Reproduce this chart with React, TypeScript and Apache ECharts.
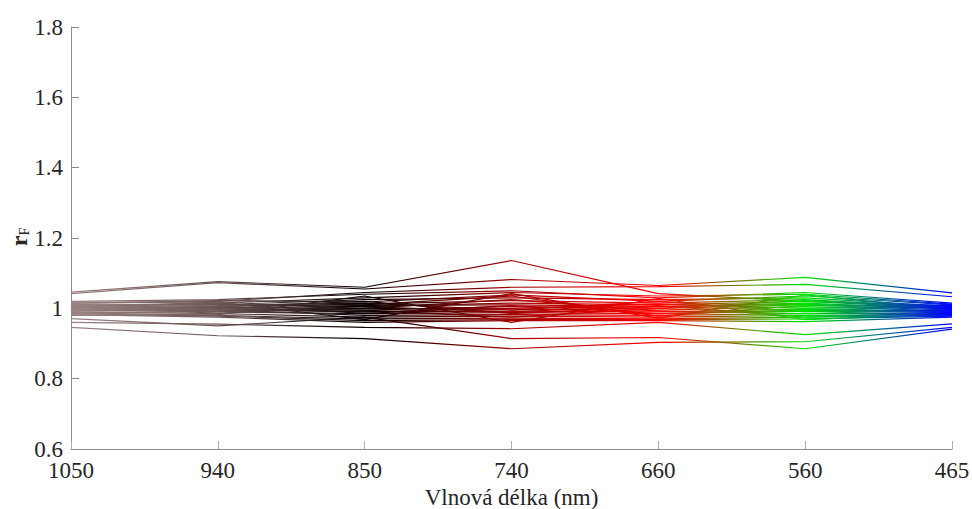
import React, { useEffect, useRef } from "react";
import * as echarts from "echarts";

const wavelengths = ["1050", "940", "850", "740", "660", "560", "465"];
const yTicks = { min: 0.6, max: 1.8, step: 0.2 };

const r01 = [1.046, 1.076, 1.060, 1.136, 1.042, 1.020, 1.008];
const r02 = [1.042, 1.073, 1.055, 1.082, 1.065, 1.088, 1.044];
const r03 = [1.015, 1.020, 1.045, 1.060, 1.062, 1.068, 1.033];
const r04 = [0.946, 0.922, 0.914, 0.885, 0.903, 0.905, 0.946];
const r05 = [0.971, 0.950, 0.975, 0.914, 0.917, 0.885, 0.941];
const r06 = [0.960, 0.955, 0.946, 0.942, 0.960, 0.925, 0.956];
const r07 = [1.020, 1.025, 1.040, 1.050, 1.030, 1.045, 1.015];
const r08 = [1.018, 1.015, 1.030, 1.045, 1.035, 1.040, 1.012];
const r09 = [1.015, 1.022, 1.018, 1.038, 1.020, 1.035, 1.010];
const r10 = [1.012, 1.010, 1.025, 1.030, 1.025, 1.030, 1.005];
const r11 = [1.010, 1.005, 1.012, 1.022, 1.015, 1.025, 1.002];
const r12 = [1.008, 1.012, 1.005, 1.015, 1.010, 1.020, 1.000];
const r13 = [1.005, 1.000, 1.008, 1.010, 1.005, 1.015, 0.998];
const r14 = [1.003, 0.998, 0.995, 1.005, 1.000, 1.010, 0.995];
const r15 = [1.000, 1.003, 1.000, 0.998, 0.995, 1.005, 0.992];
const r16 = [0.998, 0.995, 0.990, 0.992, 0.990, 0.998, 0.990];
const r17 = [0.995, 0.990, 0.985, 0.988, 0.985, 0.992, 0.988];
const r18 = [0.993, 0.996, 0.980, 0.982, 0.980, 0.985, 0.985];
const r19 = [0.990, 0.985, 0.975, 0.978, 0.975, 0.980, 0.982];
const r20 = [0.987, 0.980, 0.970, 0.972, 0.970, 0.975, 0.980];
const r21 = [0.985, 0.978, 0.965, 0.968, 0.968, 0.970, 0.978];
const r22 = [0.982, 0.975, 0.960, 0.965, 0.965, 0.962, 0.975];
const r23 = [1.010, 1.000, 0.990, 1.000, 1.012, 1.000, 1.005];
const r24 = [1.005, 1.008, 1.015, 0.995, 1.020, 0.990, 1.010];
const r25 = [0.997, 1.005, 1.020, 0.985, 1.005, 1.012, 1.000];
const r26 = [1.002, 0.992, 1.000, 1.025, 0.992, 0.985, 0.996];
const r27 = [0.992, 1.000, 0.995, 0.975, 1.000, 1.022, 1.003];
const r28 = [1.007, 1.015, 0.985, 1.008, 0.985, 0.995, 0.993];
const r29 = [0.988, 0.990, 1.005, 0.990, 1.008, 0.975, 0.988];
const r30 = [1.013, 0.985, 1.010, 1.035, 0.978, 1.008, 1.007];
const r31 = [0.980, 0.982, 1.035, 0.960, 1.028, 0.968, 0.984];
const r32 = [1.000, 1.018, 0.968, 1.042, 0.972, 1.038, 0.997];

const curves = [
  r01, r02, r03, r04, r05, r06, r07, r08, r09, r10, r11, r12, r13, r14, r15, r16,
  r17, r18, r19, r20, r21, r22, r23, r24, r25, r26, r27, r28, r29, r30, r31, r32,
];

const gradientColors = ["#9a8282", "#6c5454", "#0a0000", "#a00000", "#ff0000", "#00e000", "#0000ff"];

const FONT = "'Liberation Serif', 'DejaVu Serif', serif";

export default function App() {
  const ref = useRef<HTMLDivElement>(null);
  useEffect(() => {
    document.body.style.margin = "0";
    if (!ref.current) return;
    const chart = echarts.init(ref.current, undefined, { renderer: "svg" });
    const stops = gradientColors.map((c, i) => ({ offset: i / (gradientColors.length - 1), color: c }));
    chart.setOption({
      animation: false,
      grid: { left: 71, right: 20, top: 27, bottom: 60, containLabel: false, outerBoundsMode: "none" },
      graphic: [
        {
          type: "text",
          x: 19,
          y: 237,
          rotation: Math.PI / 2,
          silent: true,
          style: {
            text: "{r|r}{sub|F}",
            align: "center",
            verticalAlign: "middle",
            rich: {
              r: { fontFamily: FONT, fontSize: 24, fontWeight: "bold", fill: "#262626" },
              sub: { fontFamily: FONT, fontSize: 14, fill: "#262626", verticalAlign: "bottom", padding: [8, 0, 0, 0] },
            },
          },
        },
      ],
      xAxis: {
        type: "category",
        data: wavelengths,
        boundaryGap: false,
        name: "Vlnová délka (nm)",
        nameLocation: "middle",
        nameGap: 35,
        nameTextStyle: { fontFamily: FONT, fontSize: 23, color: "#262626" },
        axisLine: { lineStyle: { color: "#8c8c8c", width: 1 } },
        axisTick: { inside: true, length: 8, lineStyle: { color: "#b0b0b0" } },
        axisLabel: { fontFamily: FONT, fontSize: 23, lineHeight: 18, color: "#262626", margin: 12 },
        splitLine: { show: false },
      },
      yAxis: {
        type: "value",
        min: yTicks.min,
        max: yTicks.max,
        interval: yTicks.step,
        axisLine: { show: true, lineStyle: { color: "#8c8c8c", width: 1 } },
        axisTick: { show: true, inside: true, length: 8, lineStyle: { color: "#8c8c8c" } },
        axisLabel: { fontFamily: FONT, fontSize: 23, lineHeight: 16, color: "#262626", margin: 8 },
        splitLine: { show: false },
      },
      series: curves.map((vals, i) => ({
        name: "s" + (i + 1),
        type: "line",
        data: vals,
        symbol: "none",
        silent: true,
        lineStyle: {
          width: 1.2,
          color: new echarts.graphic.LinearGradient(0, 0, 1, 0, stops),
        },
      })),
    });
    return () => chart.dispose();
  }, []);
  return <div ref={ref} style={{ position: "absolute", left: 0, top: 0, width: 972, height: 509 }} />;
}
